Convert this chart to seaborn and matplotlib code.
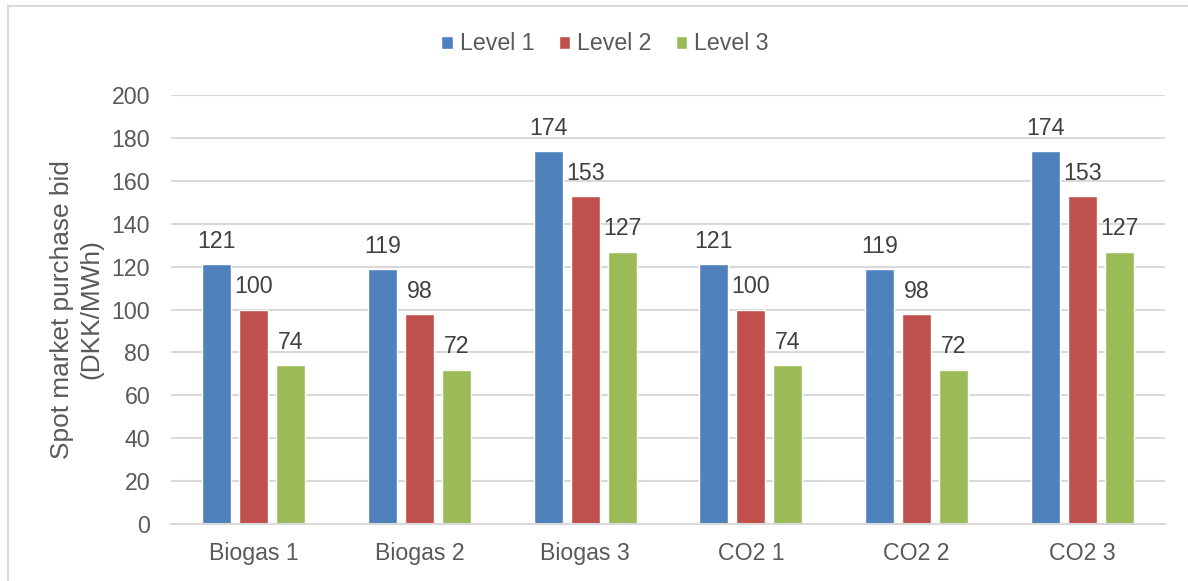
import matplotlib
matplotlib.use("Agg")
import matplotlib.pyplot as plt
import seaborn as sns
import pandas as pd
from matplotlib.patches import Rectangle

categories = ["Biogas 1", "Biogas 2", "Biogas 3", "CO2 1", "CO2 2", "CO2 3"]
series_names = ["Level 1", "Level 2", "Level 3"]
level1 = [121, 119, 174, 121, 119, 174]
level2 = [100, 98, 153, 100, 98, 153]
level3 = [74, 72, 127, 74, 72, 127]
y_ticks = [0, 20, 40, 60, 80, 100, 120, 140, 160, 180, 200]
y_label = "Spot market purchase bid\n(DKK/MWh)"

colors = ["#4F81BD", "#C0504D", "#9BBB59"]

rows = []
for name, vals in zip(series_names, [level1, level2, level3]):
    for cat, v in zip(categories, vals):
        rows.append({"category": cat, "series": name, "value": v})
df = pd.DataFrame(rows)

sns.set_theme(style="white")
plt.rcParams["font.family"] = ["Liberation Sans", "DejaVu Sans"]

W, H = 1188, 581
fig = plt.figure(figsize=(W / 100, H / 100), dpi=100)
ax = fig.add_axes([171 / W, 57 / H, (1165 - 171) / W, (524 - 95) / H])

sns.barplot(data=df, x="category", y="value", hue="series", order=categories,
            hue_order=series_names, palette=colors, width=0.67, gap=0.215,
            saturation=1, ax=ax, legend=True)

text_color = "#595959"
fs = 16.7
for cont in ax.containers:
    ax.bar_label(cont, fmt="%d", padding=8, fontsize=fs, color="#404040")

ax.set_ylim(0, 200)
ax.set_yticks(y_ticks)
ax.set_xlim(-0.5, len(categories) - 0.5)
ax.grid(axis="y", color="#D9D9D9", linewidth=1.5)
ax.set_axisbelow(True)
for s in ["top", "right", "left"]:
    ax.spines[s].set_visible(False)
ax.spines["bottom"].set_color("#D9D9D9")
ax.spines["bottom"].set_linewidth(1.5)
ax.tick_params(axis="both", length=0, labelsize=fs, labelcolor=text_color)
ax.tick_params(axis="y", pad=15)
ax.tick_params(axis="x", pad=13)
ax.set_xlabel("")
ax.set_ylabel(y_label, fontsize=18.9, color=text_color, linespacing=1.25)
ax.yaxis.set_label_coords((103 - 171) / (1165 - 171), 0.5)

ax.get_legend().remove()
handles, labels = ax.get_legend_handles_labels()
fig.legend(handles[:3], labels[:3], loc="center", bbox_to_anchor=(0.5 + 11 / W, 1 - 44 / H),
           ncol=3, frameon=False, fontsize=fs, labelcolor=text_color,
           handlelength=0.5, handleheight=0.5, handletextpad=0.3, columnspacing=1.05)

# chart border
fig.patches.append(Rectangle((8 / W, -0.02), 1.1, (H - 6) / H + 0.02,
                             transform=fig.transFigure, fill=False,
                             edgecolor="#D9D9D9", linewidth=1.5))

fig.savefig("out.png", dpi=100)
